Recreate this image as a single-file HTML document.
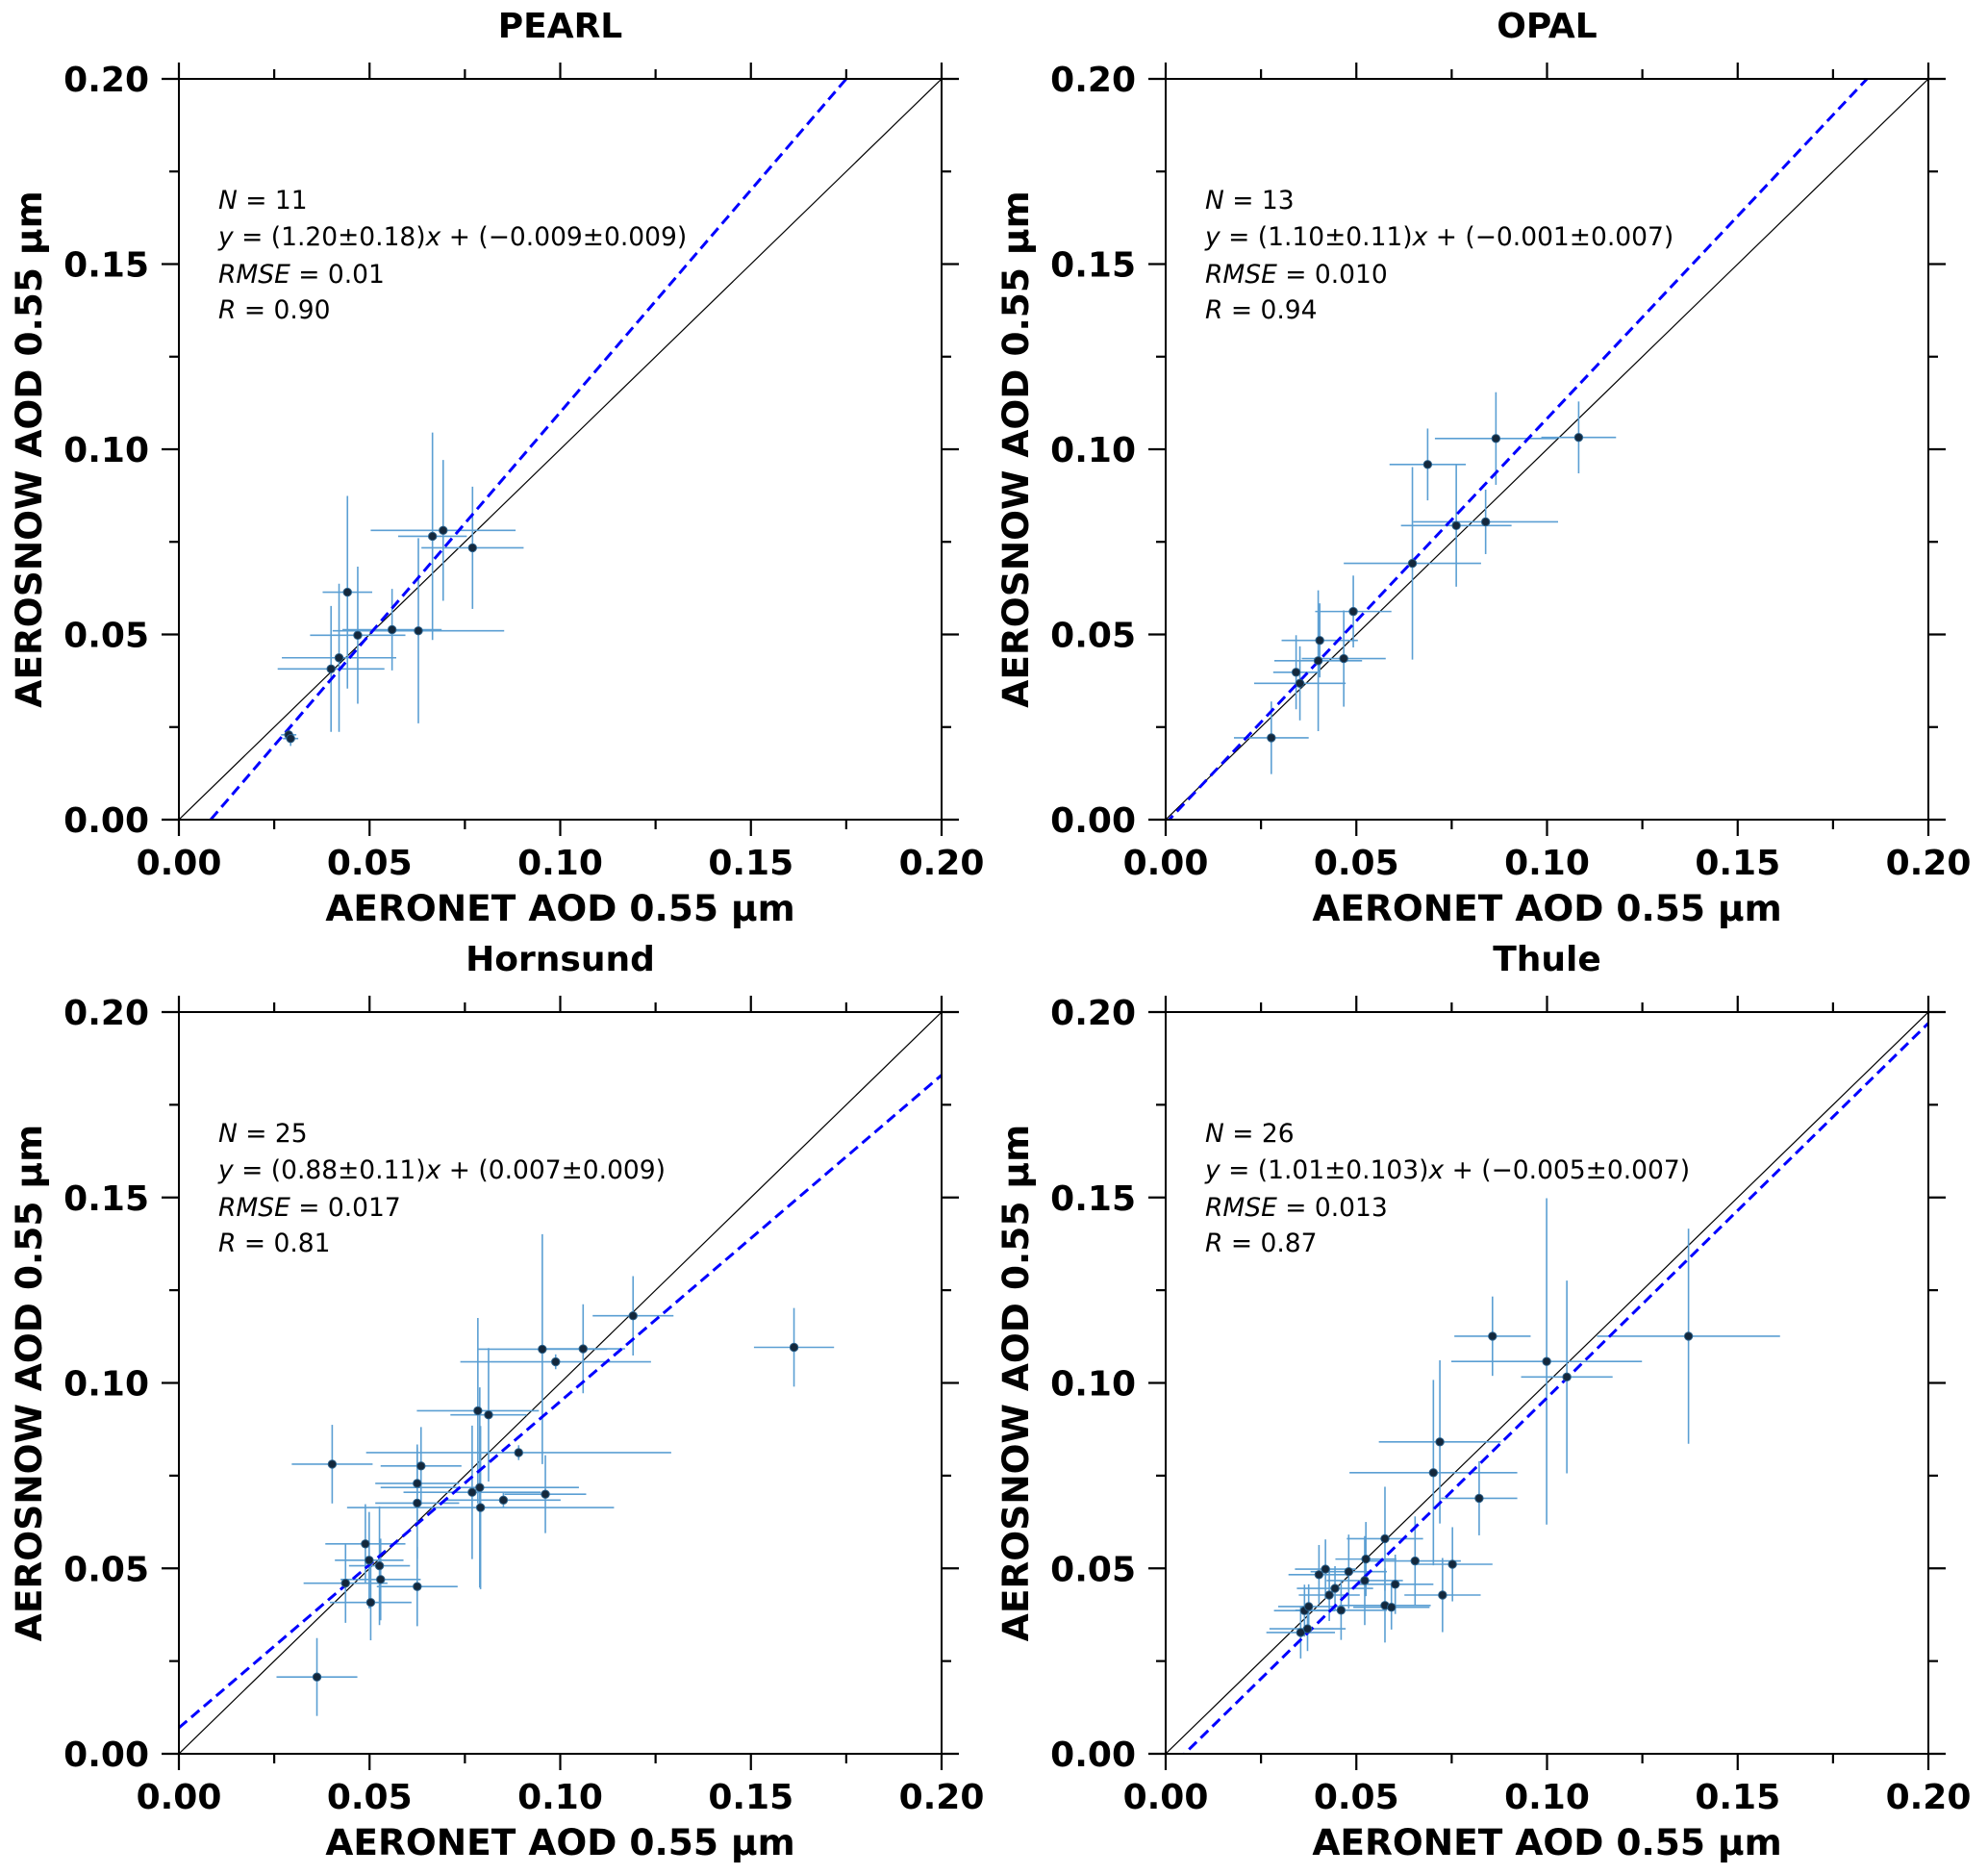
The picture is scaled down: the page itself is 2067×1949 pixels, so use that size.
<!DOCTYPE html>
<html><head><meta charset="utf-8">
<style>
html,body{margin:0;padding:0;background:#fff;}
svg{display:block;}
text{font-family:"DejaVu Sans","Liberation Sans",sans-serif;}
</style></head>
<body>
<svg id="fig" width="2067" height="1949" viewBox="0 0 2067 1949" xmlns="http://www.w3.org/2000/svg"></svg>
<script>
// ---- data ----
const pearlX = [0.0288,0.0293,0.0399,0.0420,0.0442,0.0469,0.0559,0.0628,0.0665,0.0693,0.0770];
const pearlY = [0.0229,0.0219,0.0407,0.0437,0.0614,0.0498,0.0513,0.0510,0.0765,0.0781,0.0734];
const pearlXerr = [0.002,0.002,0.014,0.015,0.0065,0.0125,0.013,0.0225,0.009,0.019,0.0134];
const pearlYerr = [0.002,0.002,0.017,0.020,0.026,0.0185,0.011,0.025,0.028,0.019,0.0165];
const pearlFit = [1.20,-0.010];
const pearlStats = ["11","(1.20±0.18)","(−0.009±0.009)","0.01","0.90"];

const opalX = [0.0277,0.0342,0.0352,0.0400,0.0404,0.0467,0.0492,0.0647,0.0687,0.0762,0.0839,0.0866,0.1083];
const opalY = [0.0221,0.0398,0.0368,0.0429,0.0484,0.0435,0.0562,0.0692,0.0959,0.0794,0.0804,0.1029,0.1032];
const opalXerr = [0.0098,0.006,0.012,0.0115,0.010,0.011,0.010,0.018,0.010,0.0145,0.019,0.016,0.0098];
const opalYerr = [0.0098,0.010,0.010,0.019,0.010,0.013,0.0097,0.026,0.0097,0.0165,0.0087,0.0125,0.0097];
const opalFit = [1.093,-0.001];
const opalStats = ["13","(1.10±0.11)","(−0.001±0.007)","0.010","0.94"];

const hornX = [0.0362,0.0402,0.0437,0.0489,0.0499,0.0503,0.0526,0.0529,0.0625,0.0625,0.0625,0.0635,0.0769,0.0784,0.0789,0.0791,0.0812,0.0851,0.0891,0.0953,0.0961,0.0988,0.1060,0.1191,0.1613];
const hornY = [0.0207,0.0781,0.0460,0.0566,0.0522,0.0408,0.0507,0.0470,0.0729,0.0676,0.0451,0.0776,0.0705,0.0925,0.0718,0.0664,0.0914,0.0684,0.0812,0.1091,0.0700,0.1057,0.1092,0.1181,0.1096];
const hornXerr = [0.0106,0.0106,0.011,0.0105,0.009,0.0107,0.008,0.0105,0.011,0.011,0.0106,0.0106,0.018,0.016,0.026,0.035,0.010,0.015,0.040,0.017,0.0107,0.025,0.011,0.0106,0.0105];
const hornYerr = [0.0105,0.0106,0.0107,0.0107,0.013,0.0102,0.016,0.011,0.0105,0.015,0.0107,0.0105,0.018,0.025,0.027,0.022,0.018,0.002,0.002,0.031,0.0105,0.002,0.012,0.0107,0.0106];
const hornFit = [0.88,0.007];
const hornStats = ["25","(0.88±0.11)","(0.007±0.009)","0.017","0.81"];

const thuleX = [0.0354,0.0364,0.0372,0.0375,0.0402,0.0419,0.0429,0.0444,0.0460,0.0480,0.0522,0.0525,0.0575,0.0575,0.0592,0.0602,0.0654,0.0702,0.0719,0.0726,0.0752,0.0822,0.0857,0.0999,0.1052,0.1371];
const thuleY = [0.0327,0.0386,0.0337,0.0397,0.0483,0.0498,0.0428,0.0446,0.0387,0.0491,0.0467,0.0525,0.0400,0.0580,0.0395,0.0457,0.0520,0.0758,0.0841,0.0428,0.0511,0.0689,0.1126,0.1058,0.1016,0.1126];
const thuleXerr = [0.009,0.008,0.010,0.008,0.008,0.008,0.008,0.010,0.012,0.010,0.010,0.008,0.012,0.010,0.010,0.010,0.012,0.022,0.016,0.010,0.0105,0.010,0.010,0.025,0.012,0.024];
const thuleYerr = [0.007,0.007,0.006,0.006,0.008,0.008,0.007,0.006,0.008,0.010,0.012,0.010,0.010,0.014,0.006,0.008,0.012,0.025,0.022,0.010,0.010,0.010,0.0107,0.044,0.026,0.029];
const thuleFit = [1.01,-0.005];
const thuleStats = ["26","(1.01±0.103)","(−0.005±0.007)","0.013","0.87"];

const ticks = [0,0.05,0.10,0.15,0.20];
const tickLabels = ["0.00","0.05","0.10","0.15","0.20"];
const minorTicks = [0.025,0.075,0.125,0.175];

const NS="http://www.w3.org/2000/svg";
const svg=document.getElementById('fig');
function el(tag,attrs,parent){const e=document.createElementNS(NS,tag);for(const k in attrs)e.setAttribute(k,attrs[k]);(parent||svg).appendChild(e);return e;}
function span(parent,txt,italic){const t=el('tspan',italic?{'font-style':'italic'}:{},parent);t.textContent=txt;return t;}

const panels=[
 {key:'pearl',title:'PEARL',x0:186,x1:979,y0:82,y1:852,X:pearlX,Y:pearlY,XE:pearlXerr,YE:pearlYerr,fit:pearlFit,st:pearlStats},
 {key:'opal',title:'OPAL',x0:1212,x1:2005,y0:82,y1:852,X:opalX,Y:opalY,XE:opalXerr,YE:opalYerr,fit:opalFit,st:opalStats},
 {key:'hornsund',title:'Hornsund',x0:186,x1:979,y0:1052,y1:1823,X:hornX,Y:hornY,XE:hornXerr,YE:hornYerr,fit:hornFit,st:hornStats},
 {key:'thule',title:'Thule',x0:1212,x1:2005,y0:1052,y1:1823,X:thuleX,Y:thuleY,XE:thuleXerr,YE:thuleYerr,fit:thuleFit,st:thuleStats}
];

panels.forEach(p=>{
  const g=el('g',{});
  
  
  const sx=v=>p.x0+(v/0.2)*(p.x1-p.x0);
  const sy=v=>p.y1-(v/0.2)*(p.y1-p.y0);
  const cx=(p.x0+p.x1)/2, cy=(p.y0+p.y1)/2;
  const cid='clip-'+p.key;
  const cp=el('clipPath',{id:cid},g);
  el('rect',{x:p.x0,y:p.y0,width:p.x1-p.x0,height:p.y1-p.y0},cp);
  const plot=el('g',{'clip-path':'url(#'+cid+')'},g);
  
  
  const id=el('line',{x1:sx(0),y1:sy(0),x2:sx(0.2),y2:sy(0.2),stroke:'#000','stroke-width':1.2},plot);
  
  
  for(let i=0;i<p.X.length;i++){
    const eb=el('g',{stroke:'#5b9fd3','stroke-width':1.6},plot);
    
    
    el('line',{x1:sx(p.X[i]-p.XE[i]),y1:sy(p.Y[i]),x2:sx(p.X[i]+p.XE[i]),y2:sy(p.Y[i])},eb);
    el('line',{x1:sx(p.X[i]),y1:sy(p.Y[i]-p.YE[i]),x2:sx(p.X[i]),y2:sy(p.Y[i]+p.YE[i])},eb);
  }
  const fx0=0, fx1=0.2;
  const fl=el('line',{x1:sx(fx0),y1:sy(p.fit[0]*fx0+p.fit[1]),x2:sx(fx1),y2:sy(p.fit[0]*fx1+p.fit[1]),stroke:'#0000ff','stroke-width':3,'stroke-dasharray':'11,6'},plot);
  
  
  for(let i=0;i<p.X.length;i++){
    const c=el('circle',{cx:sx(p.X[i]),cy:sy(p.Y[i]),r:4.2,fill:'#14283c',stroke:'#2a5f88','stroke-width':1},plot);
    
    
  }
  const fr=el('rect',{x:p.x0,y:p.y0,width:p.x1-p.x0,height:p.y1-p.y0,fill:'none',stroke:'#000','stroke-width':2},g);
  
  
  const tg=el('g',{stroke:'#000','stroke-width':2.2},g);
  
  
  ticks.forEach(t=>{
    el('line',{x1:sx(t),y1:p.y1,x2:sx(t),y2:p.y1+17},tg);
    el('line',{x1:sx(t),y1:p.y0,x2:sx(t),y2:p.y0-17},tg);
    el('line',{x1:p.x0,y1:sy(t),x2:p.x0-18,y2:sy(t)},tg);
    el('line',{x1:p.x1,y1:sy(t),x2:p.x1+18,y2:sy(t)},tg);
  });
  minorTicks.forEach(t=>{
    el('line',{x1:sx(t),y1:p.y1,x2:sx(t),y2:p.y1+10},tg);
    el('line',{x1:sx(t),y1:p.y0,x2:sx(t),y2:p.y0-10},tg);
    el('line',{x1:p.x0,y1:sy(t),x2:p.x0-10,y2:sy(t)},tg);
    el('line',{x1:p.x1,y1:sy(t),x2:p.x1+10,y2:sy(t)},tg);
  });
  ticks.forEach((t,i)=>{
    const xl=el('text',{x:sx(t),y:p.y1+57,'text-anchor':'middle','font-size':36,'font-weight':'bold'},g);
    xl.textContent=tickLabels[i];
    
    
    const yl=el('text',{x:p.x0-31,y:sy(t)+13,'text-anchor':'end','font-size':36,'font-weight':'bold'},g);
    yl.textContent=tickLabels[i];
    
    
  });
  const xt=el('text',{x:cx,y:p.y1+105,'text-anchor':'middle','font-size':37.5,'font-weight':'bold'},g);
  xt.textContent='AERONET AOD 0.55 µm';
  
  
  const yt=el('text',{x:0,y:0,'text-anchor':'middle','font-size':37.5,'font-weight':'bold',transform:'translate('+(p.x0-143)+','+cy+') rotate(-90)'},g);
  yt.textContent='AEROSNOW AOD 0.55 µm';
  
  
  const ti=el('text',{x:cx,y:p.y0-43,'text-anchor':'middle','font-size':36,'font-weight':'bold'},g);
  ti.textContent=p.title;
  
  
  const ann=el('g',{'font-size':26.5},g);
  
  
  const ax=p.x0+41;
  const l1=el('text',{x:ax,y:p.y0+135},ann); span(l1,'N',true); span(l1,' = '+p.st[0]);
  const l2=el('text',{x:ax,y:p.y0+173},ann); span(l2,'y',true); span(l2,' = '+p.st[1]); span(l2,'x',true); span(l2,' + '+p.st[2]);
  const l3=el('text',{x:ax,y:p.y0+212},ann); span(l3,'RMSE',true); span(l3,' = '+p.st[3]);
  const l4=el('text',{x:ax,y:p.y0+249},ann); span(l4,'R',true); span(l4,' = '+p.st[4]);
});
</script>
</body></html>
